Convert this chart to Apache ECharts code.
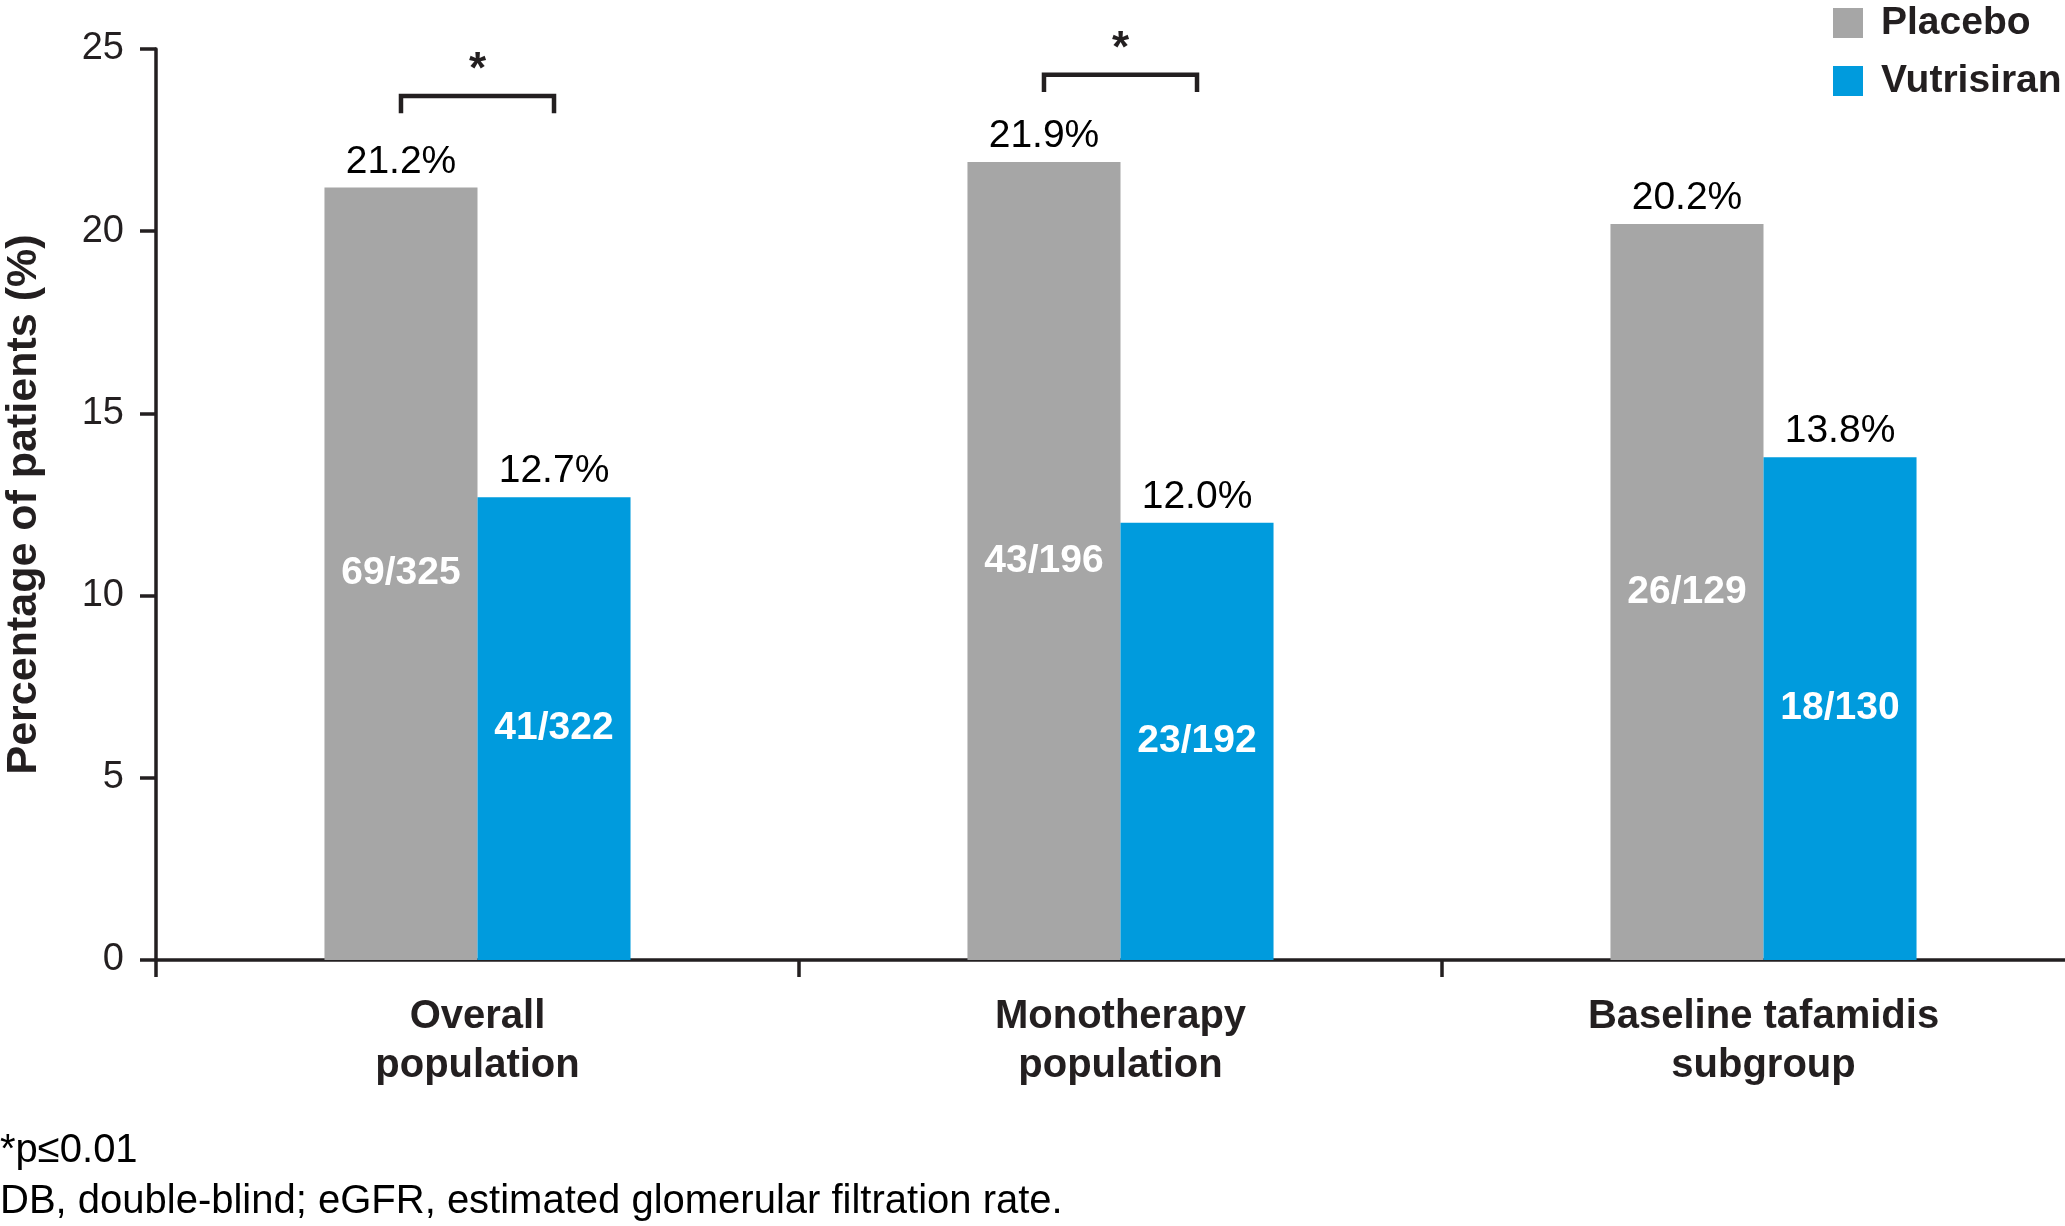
<!DOCTYPE html>
<html><head><meta charset="utf-8">
<script src="https://cdn.jsdelivr.net/npm/echarts@6/dist/echarts.min.js"></script>
<style>html,body{margin:0;padding:0;background:#fff}#c{width:2065px;height:1226px}</style>
</head><body><div id="c"></div>
<script>
// ---- data ----
const categories = ['Overall\npopulation', 'Monotherapy\npopulation', 'Baseline tafamidis\nsubgroup'];
const seriesNames = ['Placebo', 'Vutrisiran'];
const placeboPct = [21.2, 21.9, 20.2];
const vutrisiranPct = [12.7, 12.0, 13.8];
const placeboCounts = ['69/325', '43/196', '26/129'];
const vutrisiranCounts = ['41/322', '23/192', '18/130'];
const yTickValues = [0, 5, 10, 15, 20, 25];
const sigCategory = [0, 1];
const sigBracketLevel = [23.71, 24.29];
const sigMark = ['*', '*'];
const yAxisTitle = 'Percentage of patients (%)';
const footnotes = ['*p\u22640.01', 'DB, double-blind; eGFR, estimated glomerular filtration rate.'];

// ---- style ----
const FONT = "'Liberation Sans', Arial, Helvetica, sans-serif";
const INK = '#231f20';
const GRAY = '#a6a6a6';
const BLUE = '#009bdd';
const BAR_FRAC = 0.238;
const zeros = placeboPct.map(() => 0);

const chart = echarts.init(document.getElementById('c'), null, {renderer: 'canvas'});
const option = {
  animation: false,
  backgroundColor: '#fff',
  grid: {left: 156, top: 49, bottom: 266, width: 1929, containLabel: false, outerBoundsMode: 'none'},
  legend: {
    data: seriesNames, orient: 'vertical', left: 1828, top: -2,
    itemWidth: 30, itemHeight: 30, itemGap: 18, icon: 'rect',
    textStyle: {fontSize: 39, fontWeight: 'bold', color: INK, fontFamily: FONT, lineHeight: 40, padding: [0, 0, 0, 13]}
  },
  xAxis: {
    type: 'category', data: categories,
    axisLine: {lineStyle: {color: INK, width: 3.5}},
    axisTick: {show: true, length: 17, lineStyle: {color: INK, width: 3.5}},
    axisLabel: {fontSize: 40, fontWeight: 'bold', color: INK, fontFamily: FONT, lineHeight: 49, margin: 32, interval: 0}
  },
  yAxis: {
    type: 'value', min: yTickValues[0], max: yTickValues[yTickValues.length - 1], interval: 5,
    name: yAxisTitle, nameLocation: 'middle', nameGap: 110,
    nameTextStyle: {fontSize: 43, fontWeight: 'bold', color: INK, fontFamily: FONT},
    axisLine: {show: true, lineStyle: {color: INK, width: 3.5}},
    axisTick: {show: true, length: 16, lineStyle: {color: INK, width: 3.5}},
    axisLabel: {fontSize: 38, color: INK, fontFamily: FONT, margin: 32},
    splitLine: {show: false}
  },
  series: [
    {
      name: 'Placebo', type: 'bar', stack: 'p', data: placeboPct, barWidth: (BAR_FRAC * 100) + '%', barGap: '0%',
      itemStyle: {color: GRAY},
      label: {show: true, position: 'inside', fontSize: 39, fontWeight: 'bold', color: '#fff', fontFamily: FONT,
        formatter: p => placeboCounts[p.dataIndex]}
    },
    {
      name: 'PlaceboTop', type: 'bar', stack: 'p', data: zeros, barWidth: (BAR_FRAC * 100) + '%', barGap: '0%',
      itemStyle: {color: 'rgba(0,0,0,0)'}, silent: true,
      label: {show: true, position: 'top', distance: 6, fontSize: 39, color: '#000', fontFamily: FONT,
        formatter: p => placeboPct[p.dataIndex].toFixed(1) + '%'}
    },
    {
      name: 'Vutrisiran', type: 'bar', stack: 'v', data: vutrisiranPct, barWidth: (BAR_FRAC * 100) + '%', barGap: '0%',
      itemStyle: {color: BLUE},
      label: {show: true, position: 'inside', fontSize: 39, fontWeight: 'bold', color: '#fff', fontFamily: FONT,
        formatter: p => vutrisiranCounts[p.dataIndex]}
    },
    {
      name: 'VutrisiranTop', type: 'bar', stack: 'v', data: zeros, barWidth: (BAR_FRAC * 100) + '%', barGap: '0%',
      itemStyle: {color: 'rgba(0,0,0,0)'}, silent: true,
      label: {show: true, position: 'top', distance: 6, fontSize: 39, color: '#000', fontFamily: FONT,
        formatter: p => vutrisiranPct[p.dataIndex].toFixed(1) + '%'}
    },
    {
      name: 'sig', type: 'custom', silent: true, z: 10, clip: false,
      data: sigCategory.map((c, i) => [c, sigBracketLevel[i], i]),
      renderItem: (params, api) => {
        const cat = api.value(0), lvl = api.value(1), idx = api.value(2);
        const p = api.coord([cat, lvl]);
        const drop = api.size([0, 0.47])[1];
        const half = api.size([1, 0])[0] * BAR_FRAC / 2;
        return {
          type: 'group', children: [
            {type: 'polyline', shape: {points: [[p[0] - half, p[1] + drop], [p[0] - half, p[1]], [p[0] + half, p[1]], [p[0] + half, p[1] + drop]]},
              style: {stroke: INK, lineWidth: 4.5, fill: null}},
            {type: 'text', x: p[0], y: p[1] - 3,
              style: {text: sigMark[idx], fontSize: 44, fontWeight: 'bold', fontFamily: FONT, fill: INK, align: 'center', verticalAlign: 'bottom'}}
          ]
        };
      }
    }
  ],
  graphic: [
    {type: 'text', left: 0, top: 1131, style: {text: footnotes[0], fontSize: 40, fontFamily: FONT, fill: '#000'}},
    {type: 'text', left: 0, top: 1182, style: {text: footnotes[1], fontSize: 40, fontFamily: FONT, fill: '#000'}}
  ]
};
chart.setOption(option);
</script>
</body></html>
